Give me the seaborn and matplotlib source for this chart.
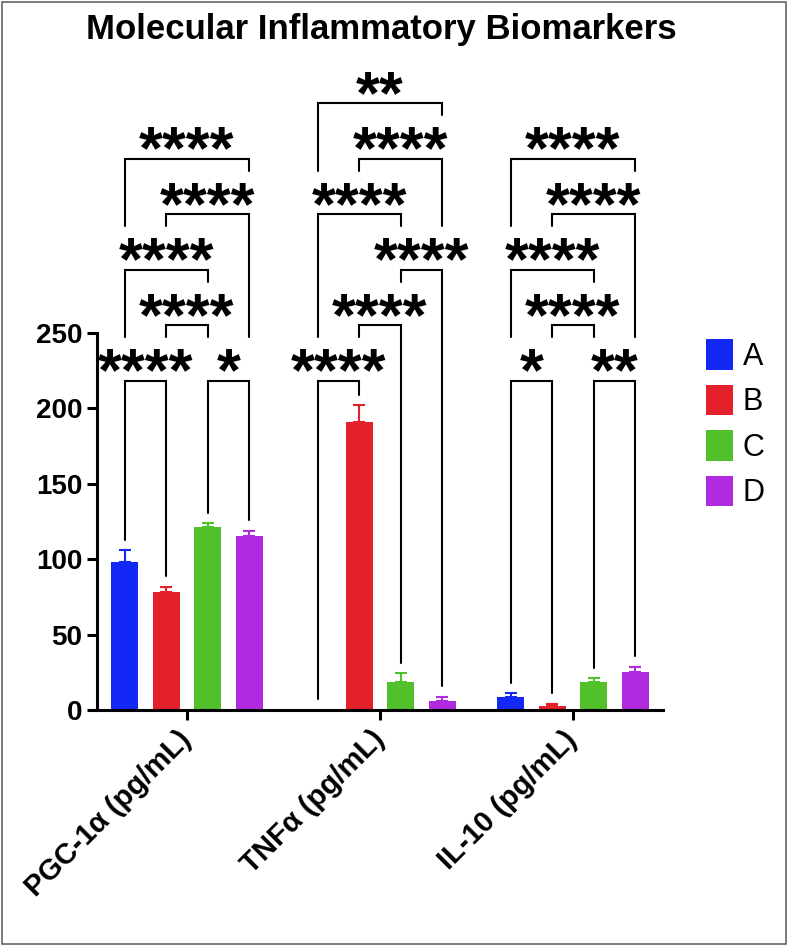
import numpy as np
import pandas as pd
import matplotlib
matplotlib.use("Agg")
import matplotlib.pyplot as plt
from matplotlib.patches import Rectangle
import seaborn as sns

# ---------------- data ----------------
markers = ["PGC-1α (pg/mL)", "TNFα (pg/mL)", "IL-10 (pg/mL)"]
groups = ["A", "B", "C", "D"]
mean_A = [98.3, 0.0, 8.8]
mean_B = [78.0, 190.5, 2.6]
mean_C = [121.4, 18.8, 18.8]
mean_D = [115.4, 6.2, 25.4]
sem_A = [7.5, 0.0, 2.2]
sem_B = [3.8, 11.5, 1.6]
sem_C = [2.4, 5.5, 2.2]
sem_D = [3.5, 2.6, 3.3]
colors = ["#1428F5", "#E4202A", "#52C02A", "#B02ADF"]
yticks = [0, 50, 100, 150, 200, 250]
title = "Molecular Inflammatory Biomarkers"

# significance comparisons: (group1, group2, label, tier)
comp_pgc = [("A", "B", "****", 0), ("C", "D", "*", 0), ("B", "C", "****", 1),
            ("A", "C", "****", 2), ("B", "D", "****", 3), ("A", "D", "****", 4)]
comp_tnf = [("A", "B", "****", 0), ("B", "C", "****", 1), ("C", "D", "****", 2),
            ("A", "C", "****", 3), ("B", "D", "****", 4), ("A", "D", "**", 5)]
comp_il10 = [("A", "B", "*", 0), ("C", "D", "**", 0), ("B", "C", "****", 1),
             ("A", "C", "****", 2), ("B", "D", "****", 3), ("A", "D", "****", 4)]

means = {"A": mean_A, "B": mean_B, "C": mean_C, "D": mean_D}
sems = {"A": sem_A, "B": sem_B, "C": sem_C, "D": sem_D}
comps = [comp_pgc, comp_tnf, comp_il10]

rows = []
for g in groups:
    for k, m in enumerate(markers):
        rows.append({"marker": m, "group": g, "value": means[g][k], "sem": sems[g][k]})
df = pd.DataFrame(rows)

# ---------------- style ----------------
sns.set_style("ticks")
plt.rcParams["font.family"] = ["Liberation Sans", "DejaVu Sans"]
plt.rcParams["axes.linewidth"] = 2.2
plt.rcParams["text.color"] = "black"
plt.rcParams["xtick.color"] = "black"
plt.rcParams["ytick.color"] = "black"
plt.rcParams["axes.edgecolor"] = "black"
plt.rcParams["axes.labelcolor"] = "black"

W, H = 789, 946
fig = plt.figure(figsize=(W / 100, H / 100), dpi=100)
ax = fig.add_axes([97 / W, 1 - 710 / H, (662.7 - 97) / W, (710 - 332.7) / H])

sns.barplot(data=df, x="marker", y="value", hue="group", order=markers,
            hue_order=groups, palette=colors, saturation=1, width=0.86,
            gap=0.35, errorbar=None, linewidth=0, ax=ax)
bar_containers = list(ax.containers)

ax.set_ylim(0, 250)
ax.set_xlim(-0.466, 2.465)
ax.set_yticks(yticks)
ax.set_xlabel("")
ax.set_ylabel("")
sns.despine(ax=ax)
for s in ["left", "bottom"]:
    ax.spines[s].set_linewidth(2.2)
    ax.spines[s].set_color("black")
ax.tick_params(axis="both", length=7.2, width=2.2, color="black", labelcolor="black")
ax.tick_params(axis="y", labelsize=20, pad=3.5)
ax.tick_params(axis="x", labelsize=21, pad=11)
for t in ax.get_yticklabels():
    t.set_fontweight("bold")
for t in ax.get_xticklabels():
    t.set_fontweight("bold")
    t.set_rotation(45)
    t.set_ha("right")
    t.set_va("center")
    t.set_rotation_mode("anchor")

# ---------------- error bars ----------------
pos, top = {}, {}
for ci, cont in enumerate(bar_containers):
    g = groups[ci]
    for p in cont:
        cx = p.get_x() + p.get_width() / 2
        k = int(round(cx))
        h = p.get_height()
        e = sems[g][k]
        pos[(k, g)] = cx
        top[(k, g)] = h + e
        if h > 0 or e > 0:
            ax.errorbar([cx], [h], yerr=[[0], [e]], fmt="none", ecolor=colors[ci],
                        elinewidth=1.5, capsize=4, capthick=1.5, zorder=3)

# ---------------- significance brackets ----------------
base, step, leg_ext, bar_gap = 218.2, 36.8, 28.7, 7.0
for k, clist in enumerate(comps):
    for g1, g2, lbl, tier in clist:
        L = base + step * tier
        x1, x2 = pos[(k, g1)], pos[(k, g2)]
        bottoms = []
        for gx in (g1, g2):
            ix = groups.index(gx)
            lower = [base + step * t2 for a, b, _, t2 in clist
                     if t2 < tier and groups.index(a) <= ix <= groups.index(b)]
            if lower:
                bottoms.append(max(lower) + leg_ext)
            else:
                bottoms.append(top[(k, gx)] + bar_gap)
        ax.plot([x1, x1, x2, x2], [bottoms[0], L, L, bottoms[1]], color="black",
                lw=1.5, clip_on=False, solid_joinstyle="miter", zorder=4)
        ax.annotate(lbl, xy=((x1 + x2) / 2, L), xytext=(0, -7),
                    textcoords="offset points", ha="center", va="baseline",
                    fontsize=44, fontweight="bold", color="black",
                    annotation_clip=False)

# ---------------- legend ----------------
sns.move_legend(ax, "upper left", bbox_to_anchor=(705.7 / W, 1 - 339.5 / H),
                bbox_transform=fig.transFigure, frameon=False, title="",
                fontsize=22, handlelength=0.88, handleheight=1.15,
                labelspacing=0.42, handletextpad=0.33, borderpad=0,
                borderaxespad=0)
for t in ax.get_legend().get_texts():
    t.set_color("black")

# ---------------- title & border ----------------
fig.text(381.5 / W, 1 - 39 / H, title, ha="center", va="baseline",
         fontsize=25, fontweight="bold", color="black")
fig.add_artist(Rectangle((2 / W, 2 / H), (786 - 2) / W, (944 - 2) / H,
                         transform=fig.transFigure, fill=False,
                         edgecolor="#666666", lw=1.2))

fig.savefig("out.png", dpi=100)
